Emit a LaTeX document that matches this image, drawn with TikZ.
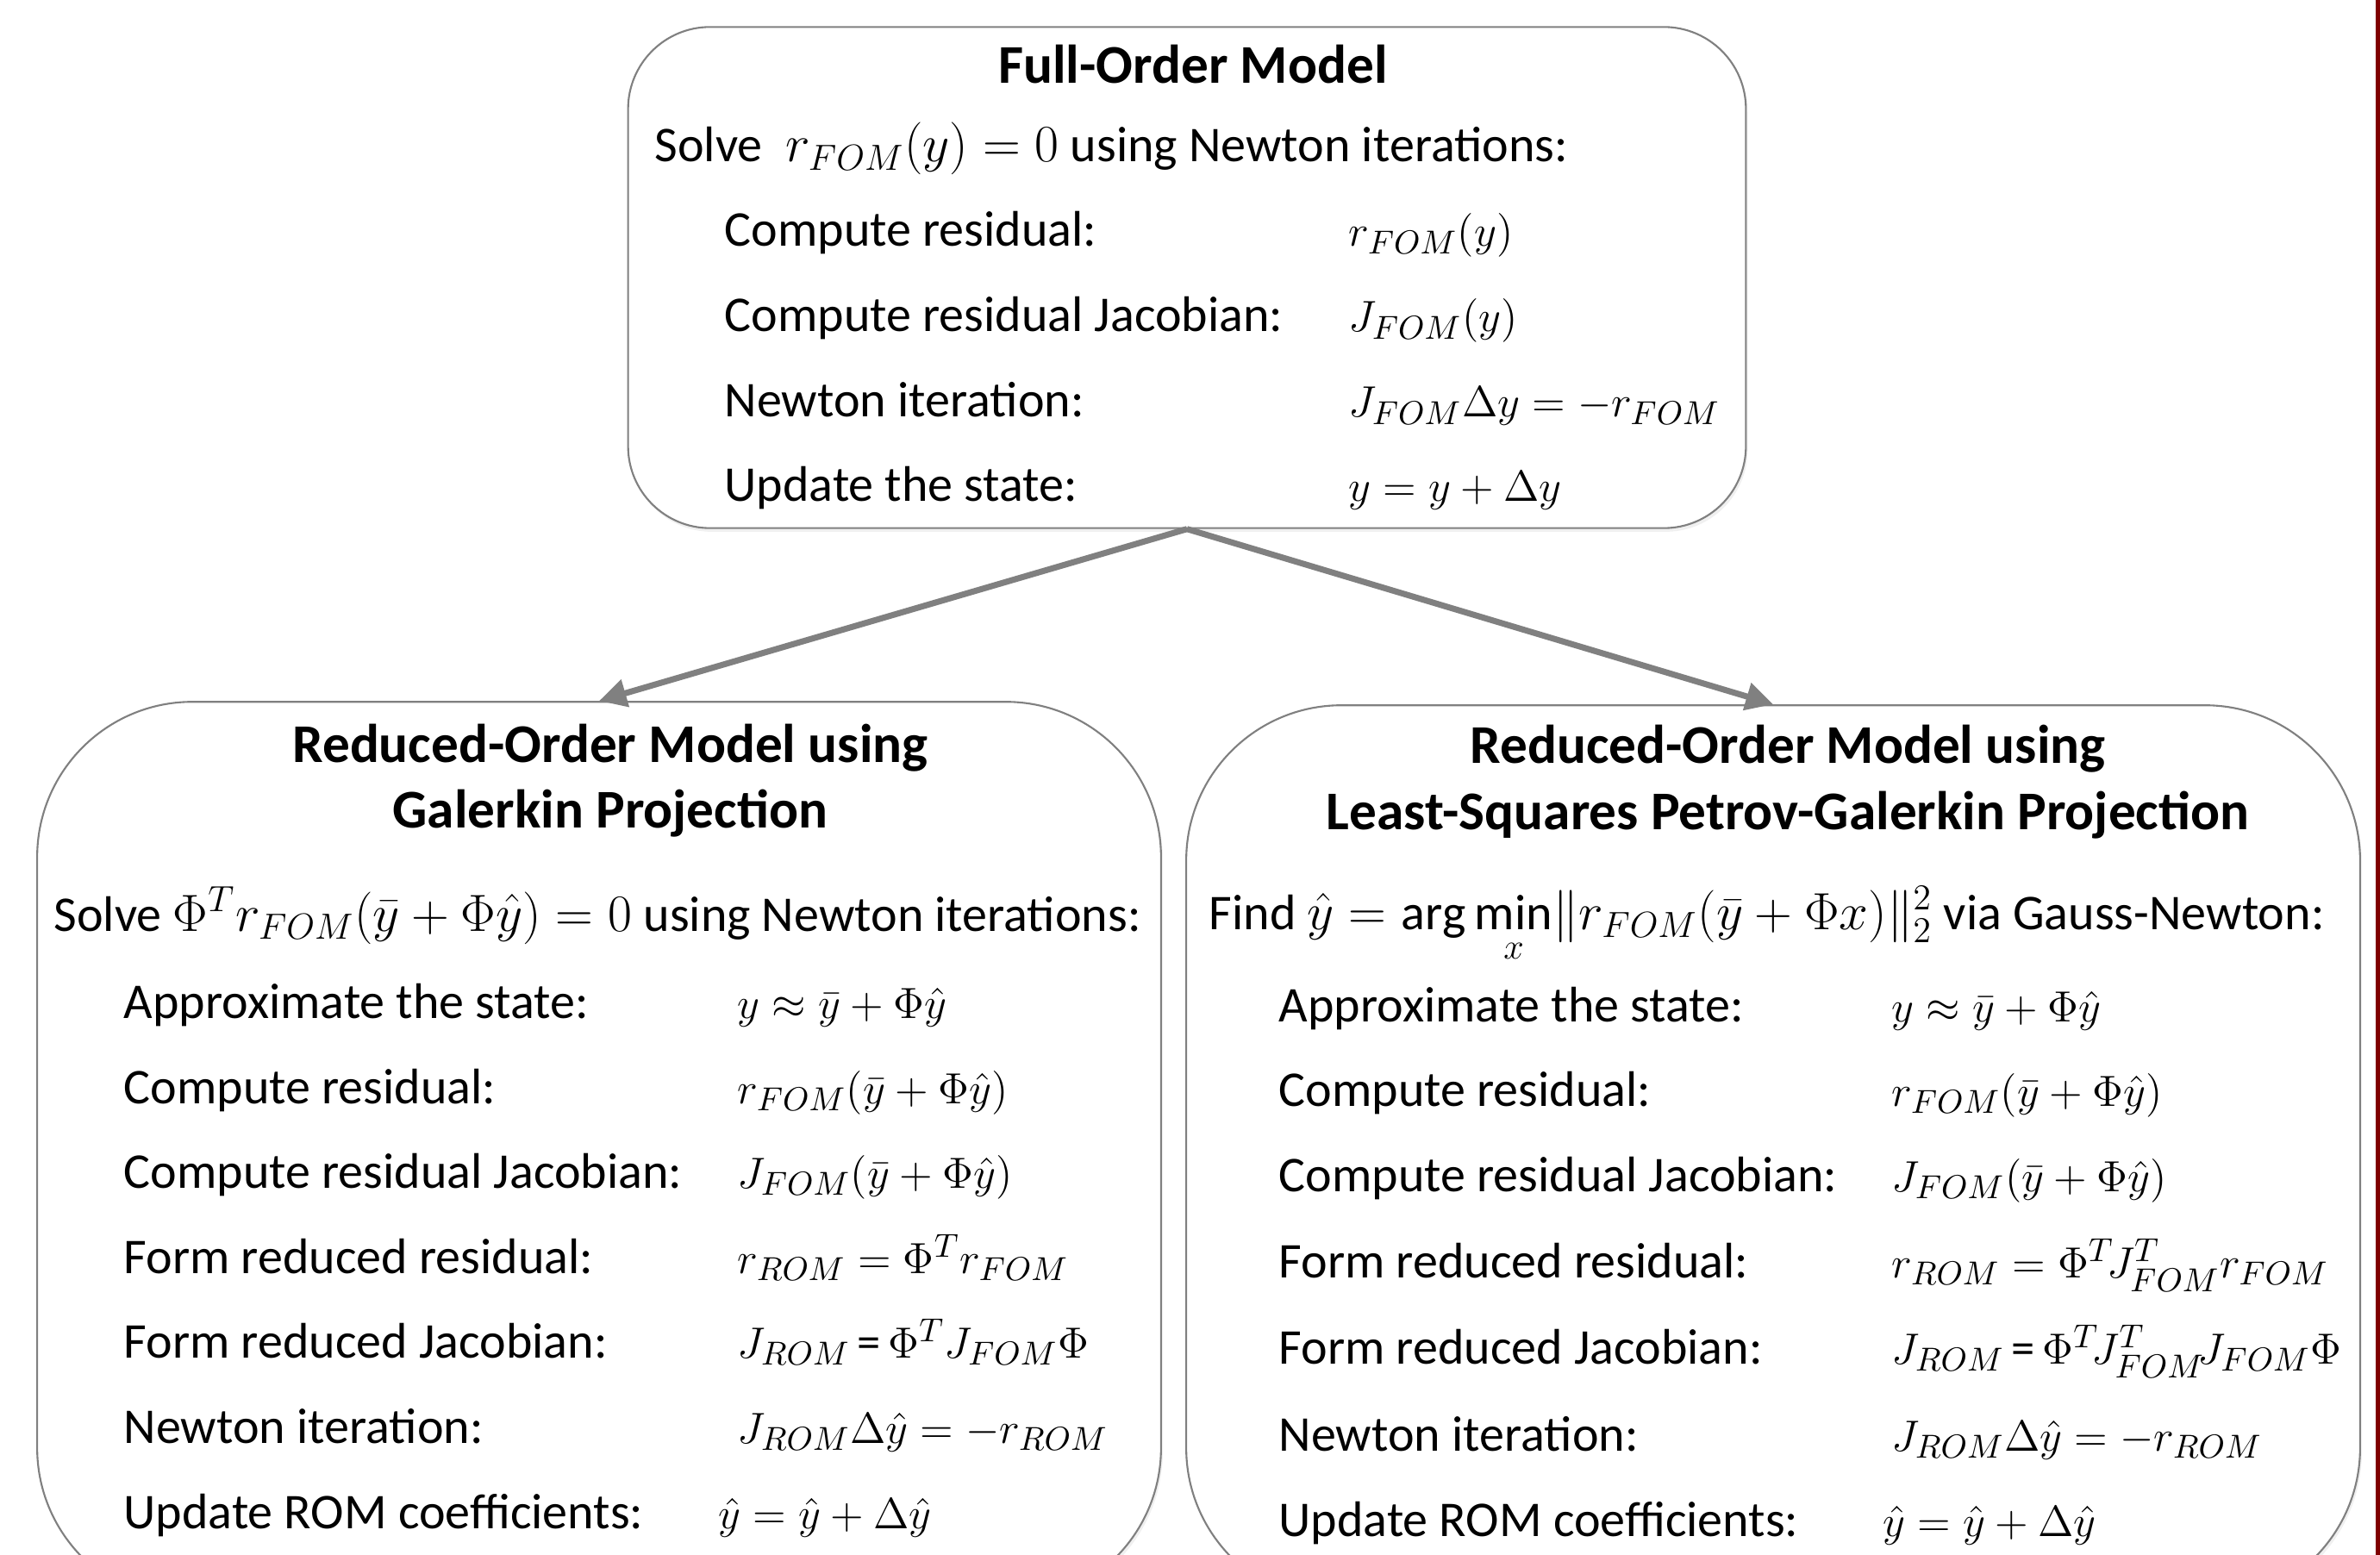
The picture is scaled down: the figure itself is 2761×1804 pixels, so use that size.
\documentclass[tikz,border=0pt]{standalone}
\usepackage{amsmath,amssymb}
\usepackage{fontspec}
\setmainfont{Carlito}
\usetikzlibrary{arrows.meta,shadows}

\begin{document}
\begin{tikzpicture}[x=0.01cm, y=-0.01cm,
    box/.style={draw=black!50, line width=0.6pt, fill=white, rounded corners=#1,
      inner sep=0pt, drop shadow={opacity=0.12, shadow xshift=0.6pt, shadow yshift=-1.2pt}},
    arr/.style={draw=black!50, line width=2pt, -{Triangle[length=9pt,width=9pt]}},
    ttl/.style={anchor=base, font=\fontsize{18}{22}\selectfont\bfseries},
    txt/.style={anchor=base west, inner sep=0pt, font=\fontsize{16.5}{20}\selectfont},
    mth/.style={txt, font=\fontsize{15.5}{19}\selectfont}]
  % Page frame
  \useasboundingbox (0,0) rectangle (2761,1804);
  \clip (0,0) rectangle (2761,1804);

  % Columns of the formulas
  \def\fommath{1564}
  \def\galmath{855}
  \def\lspgmath{2194}

  % Boxes
  \node[box=0.95cm, minimum width=12.96cm, minimum height=5.81cm] (fom) at (1377,322) {};
  \node[box=1.8cm, minimum width=13.03cm, minimum height=10.45cm] (gal) at (695,1337) {};
  \node[box=1.8cm, minimum width=13.61cm, minimum height=10.41cm] (lspg) at (2057,1339) {};

  % Arrows from the full-order model
  \draw[arr] (fom.south) -- (gal.north);
  \draw[arr] (fom.south) -- (lspg.north);

  % Full-order model
  \node[ttl] (fomttl) at (1384,97) {Full-Order Model};
  \node[txt] (fomsolve) at (759,188) {Solve\ \ $r_{FOM}(y) = 0$ using Newton iterations:};
  \node[txt] (fomres) at (840,286) {Compute residual:};
  \node[mth] (fomresm) at (\fommath,286) {$r_{FOM}(y)$};
  \node[txt] (fomjac) at (840,385) {Compute residual Jacobian:};
  \node[mth] (fomjacm) at (\fommath,385) {$J_{FOM}(y)$};
  \node[txt] (fomnewt) at (840,484) {Newton iteration:};
  \node[mth] (fomnewtm) at (\fommath,484) {$J_{FOM}\Delta y = -r_{FOM}$};
  \node[txt] (fomupd) at (840,582) {Update the state:};
  \node[mth] (fomupdm) at (\fommath,582) {$y = y + \Delta y$};

  % Galerkin ROM
  \node[ttl] (galttla) at (708,885) {Reduced-Order Model using};
  \node[ttl] (galttlb) at (708,960) {Galerkin Projection};
  \node[txt] (galsolve) at (62,1080) {Solve $\Phi^T r_{FOM}(\bar{y}+\Phi\hat{y}) = 0$ using Newton iterations:};
  \node[txt] (galapp) at (143,1181) {Approximate the state:};
  \node[mth] (galappm) at (\galmath,1181) {$y \approx \bar{y}+\Phi\hat{y}$};
  \node[txt] (galres) at (143,1280) {Compute residual:};
  \node[mth] (galresm) at (\galmath,1280) {$r_{FOM}(\bar{y}+\Phi\hat{y})$};
  \node[txt] (galjac) at (143,1378) {Compute residual Jacobian:};
  \node[mth] (galjacm) at (\galmath,1378) {$J_{FOM}(\bar{y}+\Phi\hat{y})$};
  \node[txt] (galrres) at (143,1477) {Form reduced residual:};
  \node[mth] (galrresm) at (\galmath,1477) {$r_{ROM} = \Phi^T r_{FOM}$};
  \node[txt] (galrjac) at (143,1575) {Form reduced Jacobian:};
  \node[mth] (galrjacm) at (\galmath,1575) {$J_{ROM}\,\text{=}\,\Phi^T J_{FOM}\Phi$};
  \node[txt] (galnewt) at (143,1674) {Newton iteration:};
  \node[mth] (galnewtm) at (\galmath,1674) {$J_{ROM}\Delta\hat{y} = -r_{ROM}$};
  \node[txt] (galupd) at (143,1773) {Update ROM coefficients:};
  \node[mth] (galupdm) at (833,1773) {$\hat{y} = \hat{y} + \Delta\hat{y}$};

  % LSPG ROM
  \node[ttl] (lspgttla) at (2074,886) {Reduced-Order Model using};
  \node[ttl] (lspgttlb) at (2074,962) {Least-Squares Petrov-Galerkin Projection};
  \node[txt] (lspgfind) at (1402,1078) {Find $\hat{y} = \arg\min\limits_x\!\|r_{FOM}(\bar{y}+\Phi x)\|_2^2$ via Gauss-Newton:};
  \node[txt] (lspgapp) at (1483,1185) {Approximate the state:};
  \node[mth] (lspgappm) at (\lspgmath,1185) {$y \approx \bar{y}+\Phi\hat{y}$};
  \node[txt] (lspgres) at (1483,1283) {Compute residual:};
  \node[mth] (lspgresm) at (\lspgmath,1283) {$r_{FOM}(\bar{y}+\Phi\hat{y})$};
  \node[txt] (lspgjac) at (1483,1382) {Compute residual Jacobian:};
  \node[mth] (lspgjacm) at (\lspgmath,1382) {$J_{FOM}(\bar{y}+\Phi\hat{y})$};
  \node[txt] (lspgrres) at (1483,1482) {Form reduced residual:};
  \node[mth] (lspgrresm) at (\lspgmath,1482) {$r_{ROM} = \Phi^T\! J_{FOM}^T r_{FOM}$};
  \node[txt] (lspgrjac) at (1483,1582) {Form reduced Jacobian:};
  \node[mth] (lspgrjacm) at (\lspgmath,1582) {$J_{ROM}\,\text{=}\,\Phi^T\! J_{FOM}^T\! J_{FOM}\Phi$};
  \node[txt] (lspgnewt) at (1483,1683) {Newton iteration:};
  \node[mth] (lspgnewtm) at (\lspgmath,1683) {$J_{ROM}\Delta\hat{y} = -r_{ROM}$};
  \node[txt] (lspgupd) at (1483,1782) {Update ROM coefficients:};
  \node[mth] (lspgupdm) at (2184,1782) {$\hat{y} = \hat{y} + \Delta\hat{y}$};

  % Dark red edge on the right
  \fill[red!50!black] (2756,0) rectangle (2761,1804);
\end{tikzpicture}
\end{document}
